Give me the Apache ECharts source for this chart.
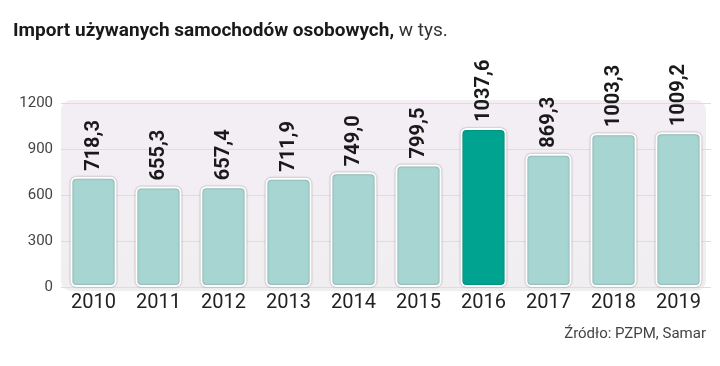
<!DOCTYPE html>
<html><head><meta charset="utf-8">
<script src="https://cdn.jsdelivr.net/npm/echarts@6/dist/echarts.min.js"></script>
<style>html,body{margin:0;padding:0;background:#fff}#c{width:720px;height:366px}</style>
</head><body><div id="c"></div>
<script>
const years = ['2010','2011','2012','2013','2014','2015','2016','2017','2018','2019'];
const values = [718.3, 655.3, 657.4, 711.9, 749.0, 799.5, 1037.6, 869.3, 1003.3, 1009.2];
const highlightYear = '2016';
const yTicks = [0, 300, 600, 900, 1200];

const chart = echarts.init(document.getElementById('c'), null, {renderer:'canvas'});
const fmt = v => v.toFixed(1).replace('.', ',');
chart.setOption({
  animation: false,
  title: {
    text: '{b|Import używanych samochodów osobowych,}{n| w tys.}',
    left: 8, top: 17,
    textStyle: { rich: {
      b: {fontFamily:'Roboto', fontWeight:'bold', fontSize:19, color:'#1a1a1a'},
      n: {fontFamily:'Roboto', fontWeight:'normal', fontSize:19, color:'#333'}
    }}
  },
  graphic: [
    {type:'rect', shape:{x:61, y:100, width:645, height:191, r:10}, z:-10,
     style:{fill:new echarts.graphic.LinearGradient(0,0,0,1,[{offset:0,color:'#f4eef4'},{offset:1,color:'#f1eef2'}])}},
    {type:'text', right:14, top:327, style:{text:'Źródło: PZPM, Samar', fontFamily:'Roboto', fontSize:15, fill:'#444'}}
  ],
  grid: {left:61, right:9, top:103, bottom:79},
  xAxis: {
    type:'category', data: years,
    axisLine:{show:false}, axisTick:{show:false},
    axisLabel:{fontFamily:'Roboto', fontSize:20, color:'#222', margin:6}
  },
  yAxis: {
    type:'value', min:0, max:1200, interval:300,
    axisLine:{show:false}, axisTick:{show:false},
    splitLine:{lineStyle:{color:'#e2dae2', width:1}},
    axisLabel:{fontFamily:'Roboto', fontSize:15, color:'#444', margin:8,
      formatter: v => yTicks.includes(v) ? String(v) : ''}
  },
  series: [{
    type:'bar', barWidth:'71%',
    data: values.map((v,i)=>({value:v, itemStyle:{color: years[i]===highlightYear ? '#00a390' : '#a7d5d2'}})),
    itemStyle:{borderColor:'#ffffff', borderWidth:2, borderRadius:5, shadowColor:'rgba(0,0,0,0.35)', shadowBlur:2},
    label:{show:true, position:'top', rotate:90, align:'left', verticalAlign:'middle', distance:6,
      fontFamily:'Roboto', fontWeight:'bold', fontSize:20, color:'#1a1a1a',
      formatter: p => fmt(p.value)}
  }]
});
</script></body></html>
